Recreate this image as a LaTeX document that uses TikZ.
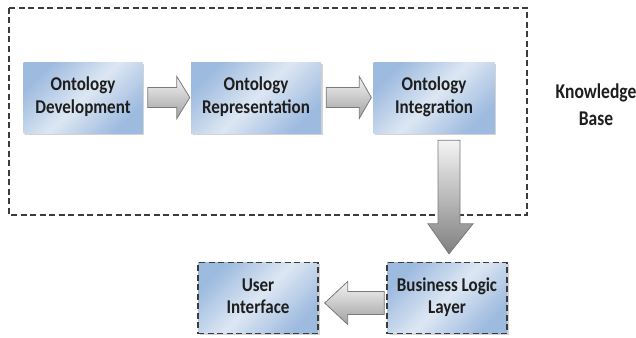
\documentclass[tikz,border=0pt]{standalone}
\usepackage{fontspec}
\setmainfont{Carlito}
\usetikzlibrary{shadows,calc}
\definecolor{boxedge}{HTML}{9DBADF}
\definecolor{boxmid}{HTML}{DDE7F3}
\definecolor{arrlight}{HTML}{F4F4F4}
\definecolor{arrdark}{HTML}{A0A0A0}
\definecolor{arrline}{HTML}{7A7A7A}
\definecolor{dashcol}{HTML}{3C3C3C}
\definecolor{txt}{HTML}{1E1E1E}
\newcommand\tallbox[2]{\scalebox{1}[#1]{\begin{tabular}{@{}c@{}}#2\end{tabular}}}
\begin{document}
\begin{tikzpicture}[x=1pt,y=1pt,
  box/.style={minimum width=120pt, minimum height=71pt, align=center,
    font=\bfseries\fontsize{17}{19.5}\selectfont, text=txt,
    left color=boxedge, right color=boxedge, middle color=boxmid, shading angle=45,
    drop shadow={shadow xshift=1.5pt,shadow yshift=-1.5pt,opacity=0.35}, inner sep=2pt},
  dashbox/.style={box, draw=dashcol, line width=1.4pt, dash pattern=on 6pt off 3.5pt},
  blockarrow/.style={draw=arrline, line width=0.8pt, top color=arrlight, bottom color=arrdark, line join=miter},
  outer/.style={draw=dashcol, line width=1.3pt, dash pattern=on 6pt off 3.5pt},
  label/.style={font=\bfseries\fontsize{17.5}{22.5}\selectfont, text=txt, align=center}]
\useasboundingbox (0,0) rectangle (636,-337);
\draw[outer] (9,-8) rectangle (527,-215);
\node[box, minimum width=119pt] (od) at (83,-97.5) {\tallbox{1.15}{Ontology\\Development}};
\node[box, minimum width=130pt] (or) at (256,-97.5) {\tallbox{1.15}{Ontology\\Representation}};
\node[box, minimum width=121pt] (oi) at (434,-97.5) {\tallbox{1.15}{Ontology\\Integration}};
\node[dashbox] (bl) at (447,-298) {\tallbox{1.15}{Business Logic\\Layer}};
\node[dashbox] (ui) at (258,-298) {\tallbox{1.15}{User\\Interface}};
\node[label] (kb) at (596,-107) {\tallbox{1.2}{Knowledge\\Base}};
% arrows
\path[blockarrow] let \p1=(od.east), \p2=(or.west) in
  (\x1+5,\y1+10) -- (\x2-14,\y1+10) -- (\x2-14,\y1+21) -- (\x2-1,\y1)
  -- (\x2-14,\y1-21) -- (\x2-14,\y1-10) -- (\x1+5,\y1-10) -- cycle;
\path[blockarrow] let \p1=(or.east), \p2=(oi.west) in
  (\x1+5,\y1+10) -- (\x2-14,\y1+10) -- (\x2-14,\y1+21) -- (\x2-2,\y1)
  -- (\x2-14,\y1-21) -- (\x2-14,\y1-10) -- (\x1+5,\y1-10) -- cycle;
\path[blockarrow, top color=arrlight, bottom color=black!50] let \p1=(oi.south), \p2=(bl.north) in
  (\x2-9,\y1-7) -- (\x2+13,\y1-7) -- (\x2+13,\y2+38) -- (\x2+26,\y2+38)
  -- (\x2+2,\y2+8) -- (\x2-19,\y2+38) -- (\x2-9,\y2+38) -- cycle;
\path[blockarrow] let \p1=(bl.west), \p2=(ui.east) in
  (\x1-2,\y1-5+11.5) -- (\x2+29,\y1-5+11.5) -- (\x2+29,\y1-5+21.5) -- (\x2+6,\y1-5)
  -- (\x2+29,\y1-5-21.5) -- (\x2+29,\y1-5-11.5) -- (\x1-2,\y1-5-11.5) -- cycle;
\end{tikzpicture}
\end{document}
